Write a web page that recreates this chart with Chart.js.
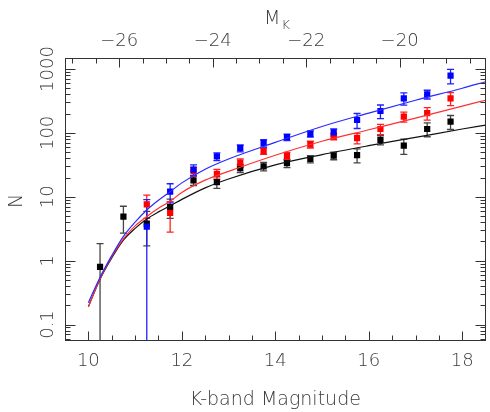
<!DOCTYPE html>
<html><head><meta charset="utf-8">
<script src="https://cdn.jsdelivr.net/npm/chart.js@4.4.1/dist/chart.umd.min.js"></script>
<style>html,body{margin:0;padding:0;background:#fff;}canvas{display:block;}</style>
</head><body>
<canvas id="c" width="490" height="412"></canvas>
<script>
// ---- data ----
const binsBlack = [10.25,10.75,11.25,11.75,12.25,12.75,13.25,13.75,14.25,14.75,15.25,15.75,16.25,16.75,17.25,17.75];
const nBlack    = [0.8, 4.9, 3.8, 6.9, 18, 17, 28, 30, 33.6, 39, 44, 45, 78, 63, 115, 150];
const eBlack    = [1.05, 2.2, 2.1, 2.3, 3, 3.5, 4, 4.5, 5, 5, 6, 11, 13, 17, 28, 37];

const binsRed = [11.25,11.75,12.25,12.75,13.25,13.75,14.25,14.75,15.25,15.75,16.25,16.75,17.25,17.75];
const nRed    = [7.6, 5.6, 24.9, 22.8, 34, 52, 43.6, 66, 88, 82.5, 115, 179, 203, 347];
const eRed    = [3, 2.8, 4, 4, 5, 6, 6, 8, 10, 15, 21, 32, 45, 80];

const binsBlue = [11.25,11.75,12.25,12.75,13.25,13.75,14.25,14.75,15.25,15.75,16.25,16.75,17.25,17.75];
const nBlue    = [3.4, 12, 26.5, 42.8, 57.6, 69, 85.6, 96.7, 102, 159, 220, 347, 402, 785];
const eBlue    = [5.6, 4, 5, 6, 7, 9, 10, 11, 13, 42, 53, 75, 63, 200];

const fitK     = [10, 10.25, 10.5, 10.75, 11, 11.25, 11.5, 11.75, 12, 12.5, 13, 14, 15, 16, 17, 18, 18.5];
const fitBlack = [0.19, 0.51, 1.1, 2.1, 3.2, 4.5, 5.8, 7.2, 9.1, 13.8, 19, 31.6, 45.7, 63, 85, 115, 132];
const fitRed   = [0.19, 0.52, 1.15, 2.2, 3.5, 4.9, 6.6, 8.5, 11.7, 18.2, 25, 44.7, 74, 112, 170, 263, 324];
const fitBlue  = [0.22, 0.55, 1.2, 2.4, 4.0, 6.2, 8.8, 12, 16.5, 27, 39, 71, 126, 204, 324, 500, 632];

const xTicks = [10, 12, 14, 16, 18];
const topTicks = [-26, -24, -22, -20];
const yTicks = [0.1, 1, 10, 100, 1000];
const yTickLabels = ['0.1', '1', '10', '100', '1000'];
const distMod = 36.66;

const xLabel = 'K-band Magnitude';
const yLabel = 'N';
const topLabel = 'M';
const topLabelSub = 'K';

// ---- helpers ----
const pts = (xs, ys) => xs.map((x, i) => ({x: x, y: ys[i]}));
const FONT = '"DejaVu Sans", sans-serif';
const FW = '200 ';
const TXT = '#3a3a3a';

const series = [
  {bins: binsBlack, n: nBlack, e: eBlack, col: '#000000', ecol: '#444444'},
  {bins: binsRed,   n: nRed,   e: eRed,   col: '#ff0000', ecol: '#ff2020'},
  {bins: binsBlue,  n: nBlue,  e: eBlue,  col: '#0000ff', ecol: '#2020ff'}
];

const decor = {
  id: 'decor',
  beforeDatasetsDraw(chart) {
    const ctx = chart.ctx, xs = chart.scales.x, ys = chart.scales.y, a = chart.chartArea;
    ctx.save();
    ctx.beginPath(); ctx.rect(a.left, a.top, a.right - a.left, a.bottom - a.top); ctx.clip();
    ctx.lineWidth = 1.3;
    series.forEach(s => {
      ctx.strokeStyle = s.ecol;
      s.bins.forEach((k, i) => {
        const px = xs.getPixelForValue(k);
        const top = ys.getPixelForValue(s.n[i] + s.e[i]);
        const lo = s.n[i] - s.e[i];
        const bot = lo > 0 ? ys.getPixelForValue(lo) : a.bottom + 2;
        ctx.beginPath();
        ctx.moveTo(px, top); ctx.lineTo(px, bot);
        ctx.moveTo(px - 3.5, top); ctx.lineTo(px + 3.5, top);
        if (lo > 0) { ctx.moveTo(px - 3.5, bot); ctx.lineTo(px + 3.5, bot); }
        ctx.stroke();
      });
    });
    ctx.restore();
  },
  afterDraw(chart) {
    const ctx = chart.ctx, xs = chart.scales.x, xt = chart.scales.x2, ys = chart.scales.y, a = chart.chartArea;
    ctx.save();
    ctx.strokeStyle = '#333';
    ctx.lineWidth = 1;
    const L = Math.round(a.left) + 0.5, R = Math.round(a.right) - 0.5, T = Math.round(a.top) + 0.5, B = Math.round(a.bottom) + 0.5;
    ctx.strokeRect(L, T, R - L, B - T);
    ctx.beginPath();
    for (let v = 10; v <= 18.001; v += 0.5) {
      const px = Math.round(xs.getPixelForValue(v)) + 0.5;
      const len = xTicks.includes(v) ? 9 : 5;
      ctx.moveTo(px, B); ctx.lineTo(px, B - len);
    }
    for (let v = -27; v <= -18.5; v += 0.5) {
      const px = Math.round(xt.getPixelForValue(v)) + 0.5;
      if (px <= L + 1 || px >= R - 1) continue;
      const len = topTicks.includes(v) ? 9 : 5;
      ctx.moveTo(px, T); ctx.lineTo(px, T + len);
    }
    for (let d = -2; d <= 3; d++) {
      for (let m = 1; m <= 9; m++) {
        const v = m * Math.pow(10, d);
        const py = ys.getPixelForValue(v);
        if (py < a.top + 1 || py > a.bottom - 1) continue;
        const yy = Math.round(py) + 0.5;
        const len = m === 1 ? 10 : 5;
        ctx.moveTo(L, yy); ctx.lineTo(L + len, yy);
        ctx.moveTo(R, yy); ctx.lineTo(R - len, yy);
      }
    }
    ctx.stroke();

    ctx.fillStyle = TXT;
    ctx.font = FW + '18px ' + FONT;
    ctx.textAlign = 'center';
    ctx.textBaseline = 'alphabetic';
    xTicks.forEach(v => ctx.fillText(String(v), xs.getPixelForValue(v), 365.5));
    topTicks.forEach(v => ctx.fillText('\u2212' + String(-v), xt.getPixelForValue(v), 45.5));
    yTicks.forEach((v, i) => {
      ctx.save();
      ctx.translate(53, ys.getPixelForValue(v));
      ctx.rotate(-Math.PI / 2);
      ctx.fillText(yTickLabels[i], 0, 0);
      ctx.restore();
    });
    ctx.font = FW + '19px ' + FONT;
    ctx.fillText(xLabel, (a.left + a.right) / 2, 405);
    ctx.save();
    ctx.translate(22, (a.top + a.bottom) / 2 + 2);
    ctx.rotate(-Math.PI / 2);
    ctx.fillText(yLabel, 0, 0);
    ctx.restore();
    ctx.textAlign = 'left';
    ctx.font = FW + '19px ' + FONT;
    ctx.fillText(topLabel, 264, 24);
    const mw = ctx.measureText(topLabel).width;
    ctx.font = FW + '13px ' + FONT;
    ctx.fillText(topLabelSub, 264 + mw + 1, 28.5);
    ctx.restore();
  }
};

const lineDs = (data, col) => ({
  type: 'line', data: pts(fitK, data), borderColor: col, borderWidth: 1.2,
  pointRadius: 0, fill: false, cubicInterpolationMode: 'monotone', xAxisID: 'x', yAxisID: 'y'
});
const ptDs = (bins, n, col) => ({
  type: 'scatter', data: pts(bins, n), backgroundColor: col, borderColor: col, borderWidth: 0,
  pointStyle: 'rect', pointRadius: 4.4, xAxisID: 'x', yAxisID: 'y'
});

new Chart(document.getElementById('c'), {
  type: 'scatter',
  data: {
    datasets: [
      lineDs(fitBlue, '#2a2aff'),
      lineDs(fitRed, '#ff3030'),
      lineDs(fitBlack, '#111111'),
      ptDs(binsBlue, nBlue, '#0000ff'),
      ptDs(binsRed, nRed, '#ff0000'),
      ptDs(binsBlack, nBlack, '#000000')
    ]
  },
  options: {
    responsive: false, animation: false, devicePixelRatio: 1,
    layout: {padding: {left: 0, right: 1, top: 0, bottom: 0}},
    plugins: {legend: {display: false}, tooltip: {enabled: false}},
    scales: {
      x: {type: 'linear', position: 'bottom', min: 9.5, max: 18.5,
          ticks: {display: false}, grid: {display: false}, border: {display: false},
          afterFit(s) { s.height = 72; }},
      x2: {type: 'linear', position: 'top', min: 9.5 - distMod, max: 18.5 - distMod,
          ticks: {display: false}, grid: {display: false}, border: {display: false},
          afterFit(s) { s.height = 58; }},
      y: {type: 'logarithmic', position: 'left', min: 0.0573, max: 1486,
          ticks: {display: false}, grid: {display: false}, border: {display: false},
          afterFit(s) { s.width = 65; }}
    }
  },
  plugins: [decor]
});
</script>
</body></html>
